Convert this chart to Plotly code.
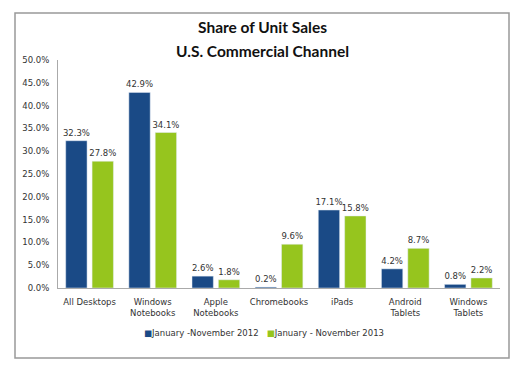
import plotly.graph_objects as go

categories = ["All Desktops", "Windows<br>Notebooks", "Apple<br>Notebooks", "Chromebooks",
              "iPads", "Android<br>Tablets", "Windows<br>Tablets"]
series_2012 = [32.3, 42.9, 2.6, 0.2, 17.1, 4.2, 0.8]
series_2013 = [27.8, 34.1, 1.8, 9.6, 15.8, 8.7, 2.2]
name_2012 = "January -November 2012"
name_2013 = "January - November 2013"
tick_vals = [0, 5, 10, 15, 20, 25, 30, 35, 40, 45, 50]
tick_text = ["0.0%", "5.0%", "10.0%", "15.0%", "20.0%", "25.0%", "30.0%", "35.0%", "40.0%", "45.0%", "50.0%"]

color_2012 = "#1A4A86"
color_2013 = "#96C51E"
font_small = dict(family="DejaVu Sans", size=8.5, color="#333333")

fig = go.Figure()
fig.add_trace(go.Bar(x=categories, y=series_2012, name=name_2012,
                     marker_color=color_2012,
                     text=[f"{v:.1f}%" for v in series_2012], textposition="outside",
                     textfont=font_small, cliponaxis=False, constraintext="none"))
fig.add_trace(go.Bar(x=categories, y=series_2013, name=name_2013,
                     marker_color=color_2013,
                     text=[f"{v:.1f}%" for v in series_2013], textposition="outside",
                     textfont=font_small, cliponaxis=False, constraintext="none"))

L, R, T, B = 58, 28, 60, 88
W, H = 528, 376
pw, ph = W - L - R, H - T - B

def px(x):
    return (x - L) / pw

def py(y):
    return (H - B - y) / ph

legend_text = (f"<span style='color:{color_2012}'>■</span>{name_2012}"
               f"&nbsp;&nbsp;&nbsp;<span style='color:{color_2013}'>■</span>{name_2013}")

fig.update_layout(
    width=W, height=H,
    margin=dict(l=L, r=R, t=T, b=B, autoexpand=False),
    paper_bgcolor="white", plot_bgcolor="white",
    barmode="group", bargap=0.165, bargroupgap=0.19,
    showlegend=False,
    annotations=[
        dict(text="<b>Share of Unit Sales</b>", x=px(262), y=py(27), xref="paper", yref="paper",
             xanchor="center", yanchor="middle",
             showarrow=False, font=dict(family="Lato", size=15.5, color="#111111")),
        dict(text="<b>U.S. Commercial Channel</b>", x=px(262), y=py(51), xref="paper", yref="paper",
             xanchor="center", yanchor="middle",
             showarrow=False, font=dict(family="Lato", size=15.5, color="#111111")),
        dict(text=legend_text, x=px(264), y=py(333), xref="paper", yref="paper",
             xanchor="center", yanchor="middle",
             showarrow=False, font=font_small),
    ],
    shapes=[dict(type="rect", xref="paper", yref="paper",
                 x0=px(15), x1=px(509), y0=py(358), y1=py(13),
                 line=dict(color="#999999", width=1.5), fillcolor="rgba(0,0,0,0)", layer="above")],
    xaxis=dict(showline=True, linecolor="#AAAAAA", linewidth=1, tickfont=font_small,
               ticks="", showgrid=False, automargin=False, ticklabelstandoff=6),
    yaxis=dict(range=[0, 50], tickvals=tick_vals, ticktext=tick_text, showline=True,
               linecolor="#AAAAAA", linewidth=1, showgrid=False, zeroline=False,
               tickfont=font_small, ticks="", automargin=False, ticklabelstandoff=6),
)

fig.write_html("out.html", config={"displayModeBar": False},
               post_script="document.body.style.margin='0';")
